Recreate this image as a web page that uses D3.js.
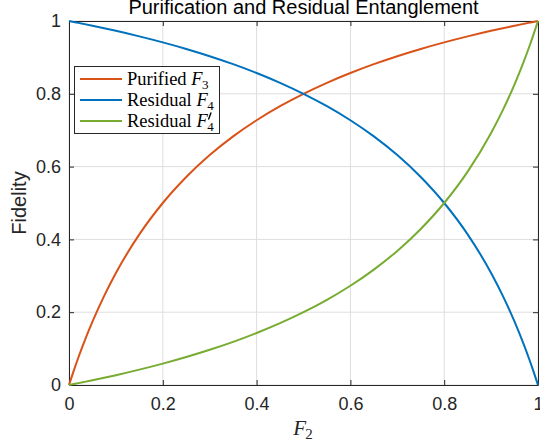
<!DOCTYPE html>
<html>
<head>
<meta charset="utf-8">
<script src="https://cdn.jsdelivr.net/npm/d3@7"></script>
<style>
  html, body { margin: 0; padding: 0; background: #fff; }
  svg { display: block; }
</style>
</head>
<body>
<svg id="chart" width="540" height="447"></svg>
<script>
// ---- data ----
const xVals = [0, 0.01, 0.02, 0.03, 0.05, 0.075, 0.1, 0.15, 0.2, 0.25, 0.3, 0.35, 0.4, 0.45, 0.5,
               0.55, 0.6, 0.65, 0.7, 0.75, 0.8, 0.85, 0.9, 0.925, 0.95, 0.97, 0.98, 0.99, 1];
const purifiedF3 = [0, 0.0388, 0.0755, 0.1101, 0.1739, 0.2449, 0.3077, 0.4138, 0.5, 0.5714, 0.6316, 0.6829, 0.7273, 0.7660, 0.8,
                    0.8302, 0.8571, 0.8814, 0.9032, 0.9231, 0.9412, 0.9577, 0.9730, 0.9801, 0.9870, 0.9923, 0.9949, 0.9975, 1];
const residualF4 = [1, 0.9975, 0.9949, 0.9923, 0.9870, 0.9801, 0.9730, 0.9577, 0.9412, 0.9231, 0.9032, 0.8814, 0.8571, 0.8302, 0.8,
                    0.7660, 0.7273, 0.6829, 0.6316, 0.5714, 0.5, 0.4138, 0.3077, 0.2449, 0.1739, 0.1101, 0.0755, 0.0388, 0];
const residualF4p = [0, 0.0025, 0.0051, 0.0077, 0.0130, 0.0199, 0.0270, 0.0423, 0.0588, 0.0769, 0.0968, 0.1186, 0.1429, 0.1698, 0.2,
                     0.2340, 0.2727, 0.3171, 0.3684, 0.4286, 0.5, 0.5862, 0.6923, 0.7551, 0.8261, 0.8899, 0.9245, 0.9612, 1];
const xTicks = [0, 0.2, 0.4, 0.6, 0.8, 1];
const yTicks = [0, 0.2, 0.4, 0.6, 0.8, 1];
const seriesNames = ["Purified", "Residual", "Residual"];
const seriesSubs = ["3", "4", "4"];
const seriesPrime = [false, false, true];
const seriesColors = ["#D95319", "#0072BD", "#77AC30"];
const titleText = "Purification and Residual Entanglement";
const yLabelText = "Fidelity";

// ---- layout ----
const svg = d3.select("#chart");
const L = 69, R = 538, T = 21, B = 385;
const x = d3.scaleLinear().domain([0, 1]).range([L, R]);
const y = d3.scaleLinear().domain([0, 1]).range([B, T]);
const axisCol = "#262626";
const sans = "'Liberation Sans', Arial, Helvetica, sans-serif";
const serif = "'Liberation Serif', 'Times New Roman', serif";

// grid
const grid = svg.append("g");
grid.selectAll("line.gx").data(xTicks).join("line")
  .attr("x1", d => x(d)).attr("x2", d => x(d)).attr("y1", T).attr("y2", B)
  .attr("stroke", "#dedede").attr("stroke-width", 1);
grid.selectAll("line.gy").data(yTicks).join("line")
  .attr("y1", d => y(d)).attr("y2", d => y(d)).attr("x1", L).attr("x2", R)
  .attr("stroke", "#dedede").attr("stroke-width", 1);

// axes (inward ticks, box)
function styleAxis(g) {
  g.select(".domain").attr("stroke", axisCol).attr("stroke-width", 1);
  g.selectAll(".tick line").attr("stroke", axisCol).attr("stroke-width", 1);
  g.selectAll(".tick text").attr("fill", axisCol).style("font-family", sans).style("font-size", "18px");
}
const fmt = d => d.toString();
svg.append("g").attr("transform", `translate(0,${B})`)
  .call(d3.axisBottom(x).tickValues(xTicks).tickFormat(fmt).tickSizeInner(-5).tickSizeOuter(0).tickPadding(12))
  .call(styleAxis);
svg.append("g").attr("transform", `translate(0,${T})`)
  .call(d3.axisTop(x).tickValues(xTicks).tickFormat("").tickSizeInner(-5).tickSizeOuter(0))
  .call(styleAxis);
svg.append("g").attr("transform", `translate(${L},0)`)
  .call(d3.axisLeft(y).tickValues(yTicks).tickFormat(fmt).tickSizeInner(-5).tickSizeOuter(0).tickPadding(8))
  .call(styleAxis);
svg.append("g").attr("transform", `translate(${R},0)`)
  .call(d3.axisRight(y).tickValues(yTicks).tickFormat("").tickSizeInner(-5).tickSizeOuter(0))
  .call(styleAxis);

// lines
const allSeries = [purifiedF3, residualF4, residualF4p];
const line = d3.line().x((d, i) => x(xVals[i])).y(d => y(d)).curve(d3.curveMonotoneX);
svg.append("g").selectAll("path").data(allSeries).join("path")
  .attr("d", d => line(d))
  .attr("fill", "none")
  .attr("stroke", (d, i) => seriesColors[i])
  .attr("stroke-width", 2);

// title
svg.append("text").attr("x", (L + R) / 2).attr("y", 14)
  .attr("text-anchor", "middle").attr("fill", "#000")
  .style("font-family", sans).style("font-size", "20px")
  .text(titleText);

// y label
svg.append("text")
  .attr("transform", `translate(26,${(T + B) / 2}) rotate(-90)`)
  .attr("text-anchor", "middle").attr("fill", axisCol)
  .style("font-family", sans).style("font-size", "20px")
  .text(yLabelText);

// x label F_2
const xl = svg.append("g");
const xlF = xl.append("text").attr("y", 435).attr("fill", axisCol)
  .style("font-family", serif).style("font-size", "21px").style("font-style", "italic").text("F");
const fw = xlF.node().getComputedTextLength();
const xlS = xl.append("text").attr("y", 439).attr("fill", axisCol)
  .style("font-family", serif).style("font-size", "15px").text("2");
const sw = xlS.node().getComputedTextLength();
const xlx = (L + R) / 2 - (fw + sw) / 2;
xlF.attr("x", xlx);
xlS.attr("x", xlx + fw - 1);

// legend
const lg = svg.append("g");
lg.append("rect").attr("x", 74.5).attr("y", 66.5).attr("width", 145).attr("height", 67)
  .attr("fill", "#fff").attr("stroke", axisCol).attr("stroke-width", 1);
const rowY = [79, 100, 121];
seriesNames.forEach((name, i) => {
  lg.append("line").attr("x1", 80).attr("x2", 122).attr("y1", rowY[i]).attr("y2", rowY[i])
    .attr("stroke", seriesColors[i]).attr("stroke-width", 2);
  const t = lg.append("text").attr("x", 127).attr("y", rowY[i] + 5.5).attr("fill", "#000")
    .style("font-family", serif).style("font-size", "18.5px");
  t.append("tspan").text(name + " ");
  t.append("tspan").style("font-style", "italic").text("F");
  const w = t.node().getComputedTextLength();
  lg.append("text").attr("x", 127 + w - 0.5).attr("y", rowY[i] + 10).attr("fill", "#000")
    .style("font-family", serif).style("font-size", "13px").text(seriesSubs[i]);
  if (seriesPrime[i]) {
    const px = 127 + w;
    lg.append("path")
      .attr("d", `M${px + 3.2},${rowY[i] - 8} L${px + 1},${rowY[i] - 2}`)
      .attr("stroke", "#000").attr("stroke-width", 1.4).attr("stroke-linecap", "round");
  }
});
</script>
</body>
</html>
